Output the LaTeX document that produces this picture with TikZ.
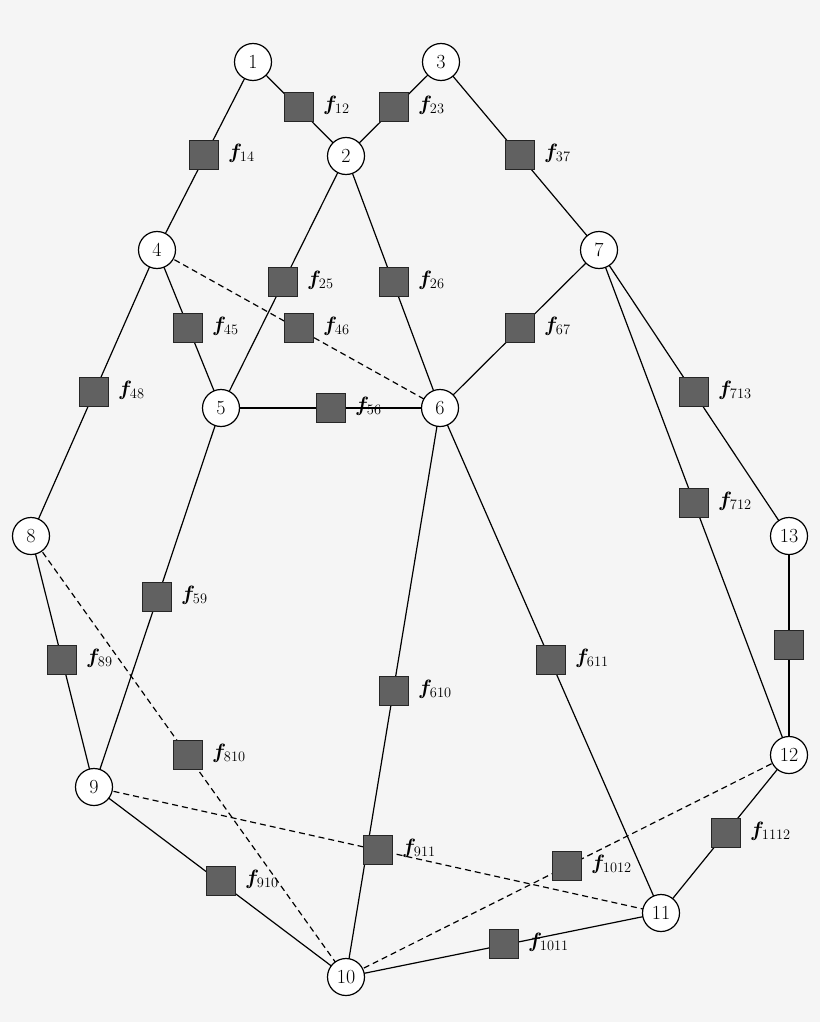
\documentclass[tikz,border=0pt]{standalone}
\usepackage{bm}
\begin{document}
\begin{tikzpicture}[x=1pt,y=-1pt,
  vn/.style={circle,draw,line width=1.2pt,fill=white,minimum size=37pt,inner sep=0pt,font=\fontsize{20}{24}\selectfont},
  fn/.style={rectangle,draw=black!85,line width=1pt,fill=black!62,minimum size=29pt,inner sep=0pt},
  fl/.style={anchor=west,font=\fontsize{22}{26}\selectfont,inner sep=1pt},
  ed/.style={line width=1.2pt},
  de/.style={line width=1.2pt,dashed,dash pattern=on 6pt off 4pt}]
\fill[fill={rgb,255:red,245;green,245;blue,245}] (0,0) rectangle (820,1022);
\useasboundingbox (0,0) rectangle (820,1022);
\foreach \n/\x/\y in {1/253/62,2/346/156,3/441/62,4/157/250,5/221/408,6/440/408,7/599/250,8/31/536,9/94/787,10/346/977,11/661/913,12/789/755,13/789/536}
  \coordinate (c\n) at (\x,\y);
% edges
\draw[ed] (c1)--(c4); \draw[ed] (c1)--(c2); \draw[ed] (c3)--(c2); \draw[ed] (c3)--(c7);
\draw[ed] (c2)--(c5); \draw[ed] (c2)--(c6); \draw[ed] (c4)--(c5); \draw[de] (c4)--(c6);
\draw[ed] (c7)--(c6); \draw[ed] (c4)--(c8); \draw[ed] (c5)--(c6); \draw[ed] (c7)--(c13);
\draw[ed] (c7)--(c12); \draw[ed] (c5)--(c9); \draw[ed] (c8)--(c9); \draw[ed] (c6)--(c11);
\draw[ed] (c13)--(c12); \draw[ed] (c6)--(c10); \draw[de] (c8)--(c10); \draw[de] (c9)--(c11);
\draw[de] (c10)--(c12); \draw[ed] (c11)--(c12); \draw[ed] (c9)--(c10); \draw[ed] (c10)--(c11);
\foreach \n in {1,...,13} \node[vn] (n\n) at (c\n) {\n};
\foreach \s/\x/\y in {12/299/107,23/394/107,14/204/155,37/520/155,25/283/282,26/394/282,45/188/328,46/299/328,67/520/328,48/94/392,56/331/408,713/694/392,712/694/503,59/157/597,89/62/660,611/551/660,610/394/691,810/188/755,911/378/850,1012/567/866,1112/726/833,910/221/881,1011/504/944}
  {\node[fn] (f\s) at (\x,\y) {}; \node[fl] at ([xshift=8pt,yshift=2pt]f\s.east) {$\bm{f}_{\s}$};}
\node[fn] (f1312) at (789,645) {};
\end{tikzpicture}
\end{document}
